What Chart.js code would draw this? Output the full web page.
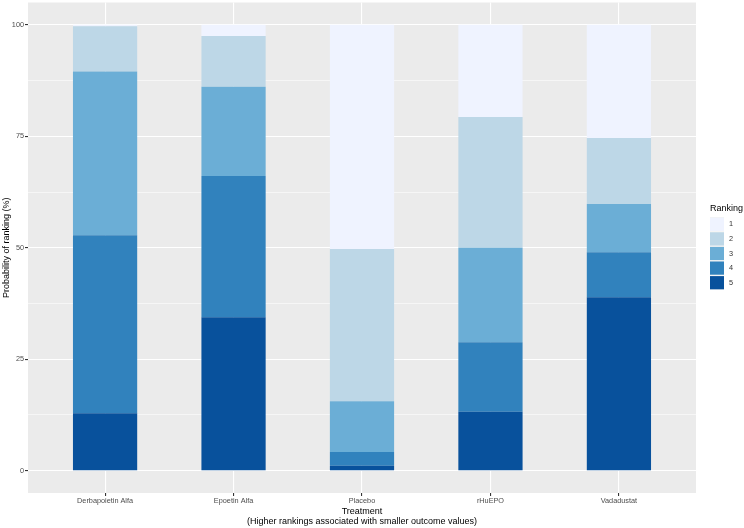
<!DOCTYPE html>
<html>
<head>
<meta charset="utf-8">
<script src="https://cdn.jsdelivr.net/npm/chart.js@4/dist/chart.umd.min.js"></script>
<style>
  html,body{margin:0;padding:0;background:#fff}
  #wrap{width:744px;height:528px}
</style>
</head>
<body>
<div id="wrap"><canvas id="c" width="744" height="528"></canvas></div>
<script>
// data (percent per ranking, stacked to 100)
const CATEGORIES = ['Derbapoietin Alfa','Epoetin Alfa','Placebo','rHuEPO','Vadadustat'];
const RANK_1 = [0.3, 2.5, 50.3, 20.7, 25.4];
const RANK_2 = [10.2, 11.4, 34.1, 29.3, 14.8];
const RANK_3 = [36.7, 20.0, 11.4, 21.2, 10.8];
const RANK_4 = [39.9, 31.7, 3.1, 15.6, 10.1];
const RANK_5 = [12.9, 34.4, 1.1, 13.2, 38.9];
const RANK_LABELS = ['1','2','3','4','5'];
const RANK_COLORS = ['#eff3ff','#bdd7e7','#6baed6','#3182bd','#08519c'];
const Y_MAJOR = [0, 25, 50, 75, 100];
const Y_MINOR = [12.5, 37.5, 62.5, 87.5];

const FONT = '"Liberation Sans", Arial, sans-serif';
const SERIES = [RANK_1, RANK_2, RANK_3, RANK_4, RANK_5];

// rank 5 at the bottom of each stack -> push datasets in reverse
const datasets = [];
for(let r=4;r>=0;r--){
  datasets.push({
    label: RANK_LABELS[r],
    data: SERIES[r].map((v,i)=>({x:i+1, y:v})),
    backgroundColor: RANK_COLORS[r],
    borderWidth: 0,
    categoryPercentage: 1,
    barPercentage: 0.5
  });
}

/* ggplot-like grey panel */
const panelBg = {
  id:'panelBg',
  beforeDraw(chart){
    const {ctx, chartArea:a} = chart;
    ctx.save();
    ctx.fillStyle = '#ebebeb';
    ctx.fillRect(a.left, a.top, a.right-a.left, a.bottom-a.top);
    ctx.restore();
  }
};

/* legend on the right, 1 on top */
const sideLegend = {
  id:'sideLegend',
  afterDraw(chart){
    const ctx = chart.ctx;
    ctx.save();
    ctx.textBaseline = 'middle';
    ctx.textAlign = 'left';
    ctx.fillStyle = '#000';
    ctx.font = '9px '+FONT;
    ctx.fillText('Ranking', 710, 209);
    ctx.font = '7.3px '+FONT;
    RANK_LABELS.forEach((lab,i)=>{
      const y = 217 + i*14.6;
      ctx.fillStyle = '#f2f2f2';
      ctx.fillRect(710, y, 14, 14.6);
      ctx.fillStyle = RANK_COLORS[i];
      ctx.fillRect(710, y+0.7, 14, 13.2);
      ctx.fillStyle = '#333';
      ctx.fillText(lab, 729, y+7.3);
    });
    ctx.restore();
  }
};

const isMajorY = v => Y_MAJOR.includes(v);

new Chart(document.getElementById('c'), {
  type:'bar',
  data:{datasets},
  plugins:[panelBg, sideLegend],
  options:{
    responsive:false,
    animation:false,
    devicePixelRatio:1,
    layout:{padding:{top:2.5, right:48, bottom:0, left:0}},
    plugins:{legend:{display:false}, tooltip:{enabled:false}},
    scales:{
      x:{
        type:'linear', stacked:true,
        min:0.4, max:5.6, offset:false,
        afterBuildTicks: s => { s.ticks = CATEGORIES.map((c,i)=>({value:i+1})); },
        afterFit: s => { s.height = 35; },
        ticks:{
          callback: v => CATEGORIES[v-1] || '',
          color:'#4d4d4d', font:{family:FONT, size:7.3}, padding:1,
          maxRotation:0, autoSkip:false
        },
        grid:{color:'#ffffff', lineWidth:1.1, tickLength:3, tickColor:'#333333', offset:false},
        border:{display:false},
        title:{
          display:true,
          text:['Treatment','(Higher rankings associated with smaller outcome values)'],
          color:'#000', font:{family:FONT, size:9, lineHeight:1.05},
          padding:{top:0, bottom:2}
        }
      },
      y:{
        stacked:true,
        min:-5, max:105,
        afterBuildTicks: s => {
          const vals = [-5, ...Y_MAJOR, ...Y_MINOR, 105].sort((a,b)=>a-b);
          s.ticks = vals.map(v=>({value:v}));
        },
        afterFit: s => { s.width = 28; },
        ticks:{
          callback: v => isMajorY(v) ? String(v) : [],
          color:'#4d4d4d', font:{family:FONT, size:7.3}, padding:1
        },
        grid:{
          color: c => (c.tick && (c.tick.value===-5 || c.tick.value===105)) ? 'rgba(0,0,0,0)' : '#ffffff',
          lineWidth: c => (c.tick && isMajorY(c.tick.value)) ? 1.1 : 0.55,
          tickLength:3,
          tickColor: c => (c.tick && isMajorY(c.tick.value)) ? '#333333' : 'rgba(0,0,0,0)'
        },
        border:{display:false},
        title:{
          display:true, text:'Probability of ranking (%)',
          color:'#000', font:{family:FONT, size:9, lineHeight:1.05},
          padding:{top:1.5, bottom:0}
        }
      }
    }
  }
});
</script>
</body>
</html>
